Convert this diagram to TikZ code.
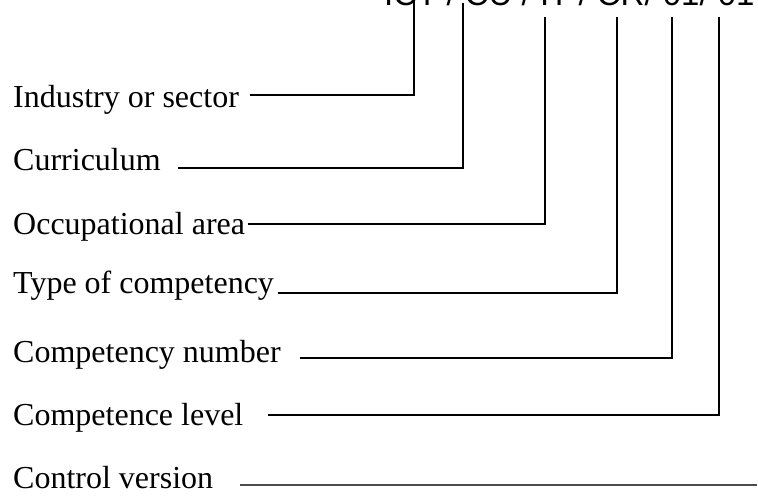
\documentclass[tikz,border=0pt]{standalone}
\usepackage{fontspec}
\setmainfont{Liberation Serif}
\newfontfamily\codefont{Liberation Sans}
\begin{document}
\begin{tikzpicture}[x=1pt,y=-1pt,
  lbl/.style={anchor=base west,inner sep=0pt,font=\fontsize{32}{38}\selectfont},
  conn/.style={line width=1.6pt,black}]
\useasboundingbox (0,0) rectangle (758,498);
\node[anchor=base west,inner sep=0pt,font=\codefont\fontsize{33}{38}\selectfont] (code) at (384,5) {ICT / CU / IT / CR/ 01/ 01};
\node[lbl] (l1) at (13,107) {Industry or sector};
\node[lbl] (l2) at (13,170) {Curriculum};
\node[lbl] (l3) at (13,234) {Occupational area};
\node[lbl] (l4) at (13,293) {Type of competency};
\node[lbl] (l5) at (13,362) {Competency number};
\node[lbl] (l6) at (13,425) {Competence level};
\node[lbl] (l7) at (13,488) {Control version};
\coordinate (s1) at (250,95);  \coordinate (t1) at (414,0);
\coordinate (s2) at (178,168); \coordinate (t2) at (463,3);
\coordinate (s3) at (248,224); \coordinate (t3) at (545,17);
\coordinate (s4) at (278,293); \coordinate (t4) at (617,17);
\coordinate (s5) at (300,358); \coordinate (t5) at (672,17);
\coordinate (s6) at (268,415); \coordinate (t6) at (719,17);
\coordinate (s7) at (240,485); \coordinate (t7) at (757,485);
\draw[conn] (s1) -| (t1);
\draw[conn] (s2) -| (t2);
\draw[conn] (s3) -| (t3);
\draw[conn] (s4) -| (t4);
\draw[conn] (s5) -| (t5);
\draw[conn] (s6) -| (t6);
\draw[conn,black!70] (s7) -- (t7);
\end{tikzpicture}
\end{document}
